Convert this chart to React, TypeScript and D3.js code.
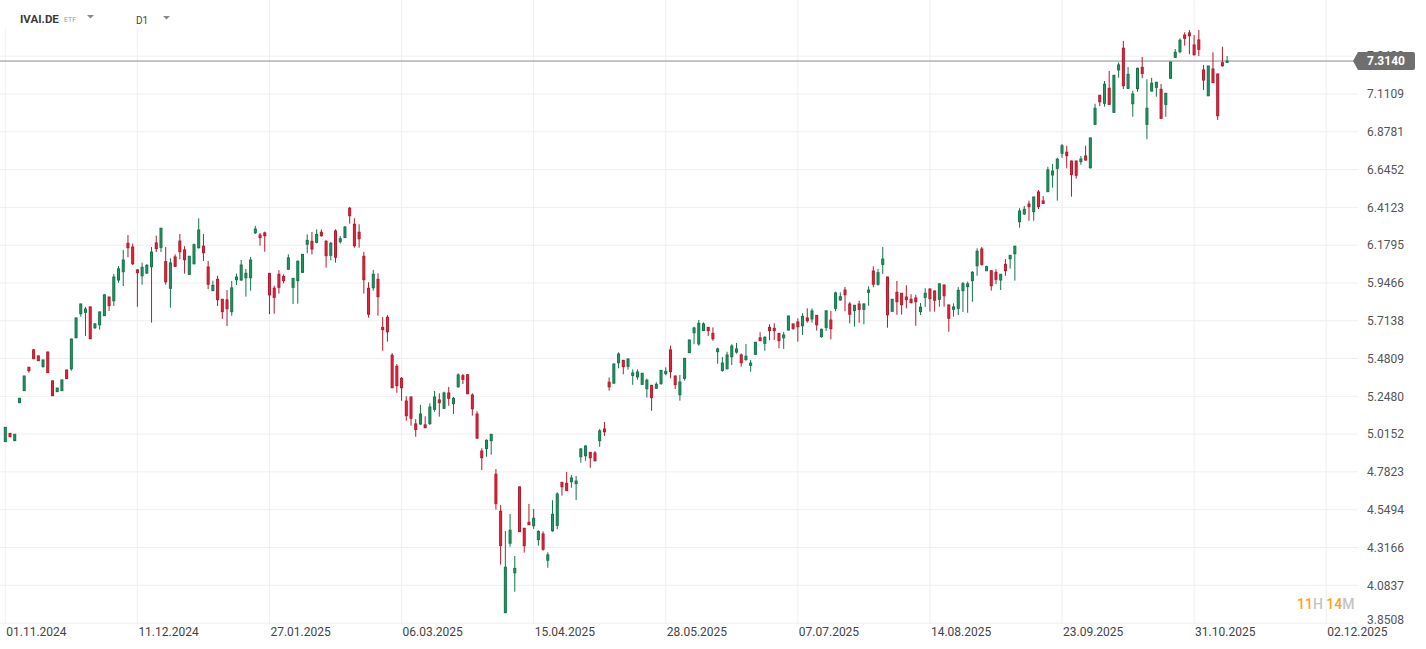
import React from "react";
import * as d3 from "d3";

const W = 1426;
const H = 649;

const dateLabels = ["01.11.2024", "11.12.2024", "27.01.2025", "06.03.2025", "15.04.2025", "28.05.2025", "07.07.2025", "14.08.2025", "23.09.2025", "31.10.2025", "02.12.2025"];
const dateLabelStep = 28;

const yTickLabels = ["3.8508", "4.0837", "4.3166", "4.5494", "4.7823", "5.0152", "5.2480", "5.4809", "5.7138", "5.9466", "6.1795", "6.4123", "6.6452", "6.8781", "7.1109", "7.3438"];

const lastPrice = 7.314;

const open = [
  4.969, 5.020, 4.975, 5.209, 5.283, 5.427, 5.534, 5.497, 5.431, 5.521,
  5.343, 5.277, 5.283, 5.410, 5.418, 5.609, 5.757, 5.766, 5.799, 5.671,
  5.689, 5.745, 5.860, 5.837, 5.965, 6.016, 6.191, 6.168, 6.027, 5.991,
  6.008, 6.047, 6.193, 6.166, 6.078, 5.914, 6.107, 6.205, 6.150, 6.000,
  6.065, 6.164, 6.173, 6.045, 5.899, 5.969, 5.846, 5.842, 5.770, 5.967,
  5.965, 5.979, 5.979, 6.256, 6.242, 6.255, 6.006, 5.914, 6.000, 5.987,
  6.031, 5.920, 5.961, 6.012, 6.185, 6.203, 6.197, 6.259, 6.203, 6.117,
  6.267, 6.201, 6.226, 6.407, 6.308, 6.259, 6.111, 5.914, 5.917, 5.969,
  5.673, 5.735, 5.501, 5.433, 5.359, 5.219, 5.244, 5.078, 5.078, 5.072,
  5.080, 5.168, 5.226, 5.174, 5.269, 5.203, 5.307, 5.375, 5.381, 5.256,
  5.139, 4.911, 4.926, 4.975, 4.768, 4.540, 3.915, 4.343, 4.161, 4.690,
  4.435, 4.472, 4.451, 4.365, 4.400, 4.238, 4.420, 4.453, 4.718, 4.712,
  4.722, 4.710, 4.876, 4.882, 4.903, 4.899, 4.975, 5.047, 5.335, 5.329,
  5.455, 5.470, 5.433, 5.377, 5.368, 5.322, 5.295, 5.316, 5.298, 5.326,
  5.388, 5.534, 5.373, 5.258, 5.359, 5.517, 5.640, 5.571, 5.653, 5.673,
  5.636, 5.523, 5.408, 5.418, 5.492, 5.521, 5.503, 5.474, 5.439, 5.507,
  5.608, 5.575, 5.673, 5.667, 5.636, 5.609, 5.657, 5.694, 5.706, 5.683,
  5.731, 5.725, 5.747, 5.616, 5.673, 5.718, 5.790, 5.842, 5.903, 5.817,
  5.776, 5.817, 5.784, 5.889, 6.020, 5.939, 6.061, 5.983, 5.772, 5.889,
  5.883, 5.860, 5.846, 5.854, 5.770, 5.858, 5.909, 5.897, 5.846, 5.934,
  5.811, 5.784, 5.790, 5.899, 5.924, 5.961, 6.053, 6.156, 6.022, 6.022,
  6.012, 5.965, 6.061, 6.096, 6.127, 6.324, 6.372, 6.433, 6.386, 6.507,
  6.452, 6.509, 6.612, 6.653, 6.746, 6.752, 6.698, 6.698, 6.694, 6.729,
  6.657, 6.924, 7.103, 7.054, 7.146, 6.998, 7.259, 7.393, 7.146, 7.051,
  7.144, 7.275, 6.924, 7.129, 7.152, 7.140, 7.047, 7.208, 7.337, 7.372,
  7.474, 7.487, 7.413, 7.444, 7.259, 7.100, 7.265, 7.234, 7.304, 7.306,
];

const high = [
  5.059, 5.022, 5.016, 5.238, 5.375, 5.429, 5.540, 5.499, 5.474, 5.523,
  5.345, 5.301, 5.351, 5.412, 5.603, 5.733, 5.819, 5.799, 5.801, 5.700,
  5.770, 5.879, 5.862, 6.002, 6.051, 6.150, 6.242, 6.189, 6.031, 6.072,
  6.063, 6.168, 6.238, 6.285, 6.168, 6.099, 6.123, 6.248, 6.173, 6.113,
  6.189, 6.345, 6.248, 6.082, 5.961, 5.991, 5.848, 5.903, 5.959, 6.004,
  6.088, 6.033, 6.107, 6.298, 6.255, 6.263, 6.008, 5.930, 6.025, 6.000,
  6.123, 5.977, 6.086, 6.125, 6.246, 6.261, 6.277, 6.277, 6.211, 6.199,
  6.277, 6.236, 6.298, 6.415, 6.345, 6.308, 6.137, 5.951, 6.027, 6.006,
  5.737, 5.749, 5.515, 5.447, 5.367, 5.248, 5.246, 5.107, 5.195, 5.125,
  5.205, 5.281, 5.267, 5.277, 5.306, 5.244, 5.390, 5.386, 5.386, 5.267,
  5.156, 4.928, 4.983, 5.016, 4.800, 4.579, 4.418, 4.523, 4.264, 4.692,
  4.437, 4.585, 4.554, 4.422, 4.416, 4.287, 4.608, 4.657, 4.720, 4.782,
  4.763, 4.757, 4.928, 4.946, 4.905, 4.911, 5.047, 5.090, 5.365, 5.451,
  5.519, 5.472, 5.482, 5.414, 5.414, 5.392, 5.357, 5.318, 5.335, 5.410,
  5.427, 5.560, 5.375, 5.380, 5.484, 5.597, 5.677, 5.718, 5.704, 5.675,
  5.673, 5.548, 5.490, 5.523, 5.569, 5.577, 5.513, 5.571, 5.472, 5.583,
  5.643, 5.618, 5.692, 5.698, 5.638, 5.645, 5.745, 5.696, 5.729, 5.760,
  5.790, 5.790, 5.749, 5.665, 5.780, 5.774, 5.893, 5.889, 5.922, 5.829,
  5.811, 5.837, 5.821, 5.926, 6.049, 6.033, 6.168, 5.985, 5.848, 5.959,
  5.885, 5.932, 5.877, 5.873, 5.823, 5.914, 5.914, 5.901, 5.943, 5.936,
  5.813, 5.821, 5.922, 5.953, 5.955, 6.020, 6.160, 6.168, 6.053, 6.024,
  6.031, 6.002, 6.094, 6.119, 6.175, 6.407, 6.421, 6.454, 6.478, 6.519,
  6.482, 6.663, 6.680, 6.718, 6.803, 6.792, 6.700, 6.700, 6.729, 6.792,
  6.842, 7.051, 7.105, 7.191, 7.253, 7.228, 7.306, 7.438, 7.277, 7.131,
  7.273, 7.339, 7.202, 7.211, 7.185, 7.173, 7.117, 7.310, 7.388, 7.454,
  7.491, 7.505, 7.474, 7.505, 7.290, 7.285, 7.368, 7.236, 7.402, 7.345,
];

const low = [
  4.967, 4.997, 4.973, 5.207, 5.281, 5.394, 5.478, 5.466, 5.425, 5.392,
  5.250, 5.275, 5.281, 5.355, 5.406, 5.607, 5.739, 5.620, 5.601, 5.663,
  5.659, 5.743, 5.774, 5.805, 5.948, 5.928, 6.105, 6.057, 5.800, 5.936,
  6.002, 5.702, 6.137, 6.137, 5.936, 5.794, 6.045, 6.092, 6.004, 5.998,
  6.061, 6.158, 6.082, 5.909, 5.897, 5.805, 5.725, 5.681, 5.745, 5.934,
  5.959, 5.862, 5.899, 6.248, 6.176, 6.139, 5.754, 5.757, 5.881, 5.944,
  6.028, 5.817, 5.819, 6.010, 6.129, 6.123, 6.191, 6.232, 6.041, 6.086,
  6.072, 6.189, 6.224, 6.312, 6.164, 6.164, 5.881, 5.733, 5.899, 5.745,
  5.529, 5.585, 5.299, 5.270, 5.221, 5.098, 5.067, 4.999, 5.072, 5.051,
  5.072, 5.153, 5.123, 5.172, 5.190, 5.139, 5.301, 5.324, 5.262, 5.129,
  4.985, 4.794, 4.876, 4.888, 4.550, 4.211, 3.913, 4.322, 4.044, 4.412,
  4.285, 4.455, 4.431, 4.328, 4.297, 4.192, 4.414, 4.429, 4.636, 4.665,
  4.685, 4.609, 4.839, 4.851, 4.808, 4.848, 4.938, 5.004, 5.283, 5.329,
  5.421, 5.384, 5.412, 5.319, 5.350, 5.320, 5.240, 5.159, 5.295, 5.320,
  5.377, 5.359, 5.293, 5.221, 5.345, 5.515, 5.569, 5.560, 5.651, 5.620,
  5.591, 5.449, 5.400, 5.414, 5.441, 5.511, 5.431, 5.468, 5.400, 5.503,
  5.589, 5.529, 5.593, 5.595, 5.544, 5.540, 5.653, 5.657, 5.585, 5.626,
  5.702, 5.702, 5.653, 5.609, 5.651, 5.599, 5.772, 5.837, 5.772, 5.698,
  5.677, 5.702, 5.692, 5.807, 5.920, 5.930, 6.002, 5.671, 5.770, 5.751,
  5.751, 5.790, 5.821, 5.683, 5.749, 5.799, 5.770, 5.770, 5.800, 5.800,
  5.646, 5.739, 5.749, 5.768, 5.763, 5.831, 5.991, 6.053, 6.020, 5.899,
  5.940, 5.903, 5.991, 6.035, 5.961, 6.287, 6.365, 6.330, 6.330, 6.402,
  6.435, 6.507, 6.534, 6.454, 6.718, 6.653, 6.478, 6.589, 6.675, 6.700,
  6.651, 6.922, 7.036, 7.033, 7.045, 6.996, 7.211, 7.142, 7.142, 6.971,
  7.125, 7.208, 6.832, 7.127, 7.094, 6.959, 6.971, 7.206, 7.335, 7.362,
  7.409, 7.356, 7.347, 7.345, 7.136, 7.098, 7.179, 6.951, 7.279, 7.304,
];

const close = [
  5.057, 4.999, 5.014, 5.236, 5.373, 5.406, 5.480, 5.468, 5.472, 5.394,
  5.252, 5.299, 5.349, 5.357, 5.601, 5.731, 5.817, 5.786, 5.603, 5.694,
  5.768, 5.873, 5.807, 5.983, 6.033, 6.088, 6.164, 6.065, 6.010, 6.043,
  6.055, 6.137, 6.158, 6.284, 5.954, 6.070, 6.049, 6.139, 6.090, 6.111,
  6.182, 6.273, 6.133, 5.939, 5.932, 5.844, 5.770, 5.788, 5.916, 5.983,
  6.057, 6.006, 6.088, 6.279, 6.226, 6.238, 5.873, 5.858, 5.920, 5.961,
  6.101, 5.975, 6.080, 6.123, 6.209, 6.156, 6.246, 6.238, 6.115, 6.191,
  6.105, 6.219, 6.291, 6.361, 6.176, 6.219, 5.967, 5.754, 6.000, 5.862,
  5.659, 5.646, 5.301, 5.314, 5.301, 5.129, 5.113, 5.043, 5.139, 5.055,
  5.182, 5.244, 5.209, 5.269, 5.236, 5.236, 5.380, 5.353, 5.264, 5.172,
  4.991, 4.870, 4.977, 5.014, 4.587, 4.328, 4.195, 4.423, 4.188, 4.414,
  4.328, 4.457, 4.497, 4.416, 4.306, 4.271, 4.521, 4.646, 4.691, 4.667,
  4.745, 4.726, 4.924, 4.942, 4.870, 4.851, 5.035, 5.030, 5.307, 5.447,
  5.509, 5.431, 5.478, 5.392, 5.398, 5.390, 5.347, 5.240, 5.322, 5.408,
  5.402, 5.400, 5.320, 5.336, 5.482, 5.595, 5.669, 5.698, 5.694, 5.653,
  5.603, 5.540, 5.453, 5.503, 5.558, 5.540, 5.455, 5.495, 5.453, 5.581,
  5.591, 5.612, 5.653, 5.653, 5.591, 5.626, 5.743, 5.667, 5.677, 5.741,
  5.714, 5.774, 5.689, 5.661, 5.774, 5.665, 5.885, 5.862, 5.874, 5.754,
  5.809, 5.784, 5.817, 5.903, 5.939, 6.010, 6.094, 5.751, 5.846, 5.831,
  5.813, 5.844, 5.825, 5.831, 5.797, 5.883, 5.850, 5.840, 5.941, 5.868,
  5.729, 5.799, 5.901, 5.942, 5.941, 6.012, 6.142, 6.061, 6.047, 5.930,
  5.969, 6.000, 6.022, 6.117, 6.173, 6.390, 6.400, 6.417, 6.476, 6.417,
  6.437, 6.643, 6.636, 6.709, 6.792, 6.731, 6.614, 6.610, 6.710, 6.704,
  6.840, 7.023, 7.063, 7.171, 7.047, 7.226, 7.290, 7.162, 7.232, 7.111,
  7.269, 7.238, 7.023, 7.177, 7.183, 6.961, 7.115, 7.308, 7.368, 7.442,
  7.454, 7.470, 7.353, 7.386, 7.197, 7.283, 7.181, 6.977, 7.285, 7.314,
];

const FONT = "Roboto, 'Noto Sans', sans-serif";
const PLOT_RIGHT = 1358;
const PLOT_BOTTOM = 624;

export default function App() {
  const lastIdx = (dateLabels.length - 1) * dateLabelStep;
  const x = d3.scaleLinear().domain([0, lastIdx]).range([5.3, 5.3 + 4.7175 * lastIdx]);
  const yTicks = yTickLabels.map((s) => parseFloat(s));
  const y = d3.scaleLinear().domain([yTicks[0], yTicks[yTicks.length - 1]]).range([623.1, 56.2]);

  const n = Math.min(open.length, high.length, low.length, close.length);
  const candles = d3.range(n).map((i) => ({ i, o: open[i], h: high[i], l: low[i], c: close[i] }));

  const GREEN_FILL = "#1f9a66";
  const GREEN_LINE = "#13744a";
  const RED_FILL = "#e8243c";
  const RED_LINE = "#b3192c";

  const py = y(lastPrice);

  return (
    <svg
      width={W}
      height={H}
      style={{ position: "absolute", left: 0, top: 0, background: "#ffffff", fontFamily: FONT }}
    >
      <rect x={0} y={0} width={W} height={H} fill="#ffffff" />
      {/* horizontal grid */}
      {yTicks.map((v, k) => (
        <line key={"hg" + k} x1={0} x2={PLOT_RIGHT} y1={y(v)} y2={y(v)} stroke="#efefef" strokeWidth={1} />
      ))}
      {/* vertical grid */}
      {dateLabels.map((d, k) => (
        <line
          key={"vg" + k}
          x1={x(k * dateLabelStep)}
          x2={x(k * dateLabelStep)}
          y1={0}
          y2={PLOT_BOTTOM}
          stroke="#efefef"
          strokeWidth={1}
        />
      ))}
      {/* price line */}
      <line x1={0} x2={PLOT_RIGHT} y1={py} y2={py} stroke="#8c8c8c" strokeWidth={1} />
      {/* candles */}
      {candles.map((d) => {
        const up = d.c >= d.o;
        const cx = x(d.i);
        const top = y(Math.max(d.o, d.c));
        const bot = y(Math.min(d.o, d.c));
        const hgt = Math.max(1, bot - top);
        const line = up ? GREEN_LINE : RED_LINE;
        return (
          <g key={"c" + d.i}>
            <line x1={cx} x2={cx} y1={y(d.h)} y2={y(d.l)} stroke={line} strokeWidth={1} />
            <rect x={cx - 1} y={top} width={2} height={hgt} fill={up ? GREEN_FILL : RED_FILL} stroke={line} strokeWidth={1} />
          </g>
        );
      })}
      {/* header */}
      <rect x={0} y={0} width={200} height={28} fill="#ffffff" />
      <text x={20} y={23} fontSize={11.5} fontWeight={700} fill="#3a3a3a">IVAI.DE</text>
      <text x={64} y={21.5} fontSize={7} fill="#9a9a9a">ETF</text>
      <path d="M87,15 L94,15 L90.5,18.5 Z" fill="#8a8a8a" />
      <text x={136} y={24} fontSize={10} fill="#444">D1</text>
      <path d="M163,16 L170,16 L166.5,19.5 Z" fill="#8a8a8a" />
      {/* y axis labels */}
      {yTickLabels.map((s, k) => (
        <text
          key={"yl" + k}
          x={1367}
          y={Math.min(y(yTicks[k]), 620)}
          dy="0.35em"
          fontSize={12}
          fill="#555"
        >
          {s}
        </text>
      ))}
      {/* price tag */}
      <path
        d={`M1353,${py} L1358,${py - 9} L1413,${py - 9} Q1415,${py - 9} 1415,${py - 7} L1415,${py + 7} Q1415,${py + 9} 1413,${py + 9} L1358,${py + 9} Z`}
        fill="#6f6f6f"
      />
      <text x={1367} y={py} dy="0.36em" fontSize={12} fontWeight={700} fill="#ffffff">
        {lastPrice.toFixed(4)}
      </text>
      {/* x axis labels */}
      {dateLabels.map((d, k) => (
        <text key={"xl" + k} x={x(k * dateLabelStep) + 1} y={632} dy="0.35em" fontSize={12} fill="#444">
          {d}
        </text>
      ))}
      {/* countdown */}
      <text x={1297} y={604} dy="0.35em" fontSize={14} fontWeight={500}>
        <tspan fill="#f5a524">11</tspan>
        <tspan fill="#c4c4c4">H </tspan>
        <tspan fill="#f5a524">14</tspan>
        <tspan fill="#c4c4c4">M</tspan>
      </text>
    </svg>
  );
}
